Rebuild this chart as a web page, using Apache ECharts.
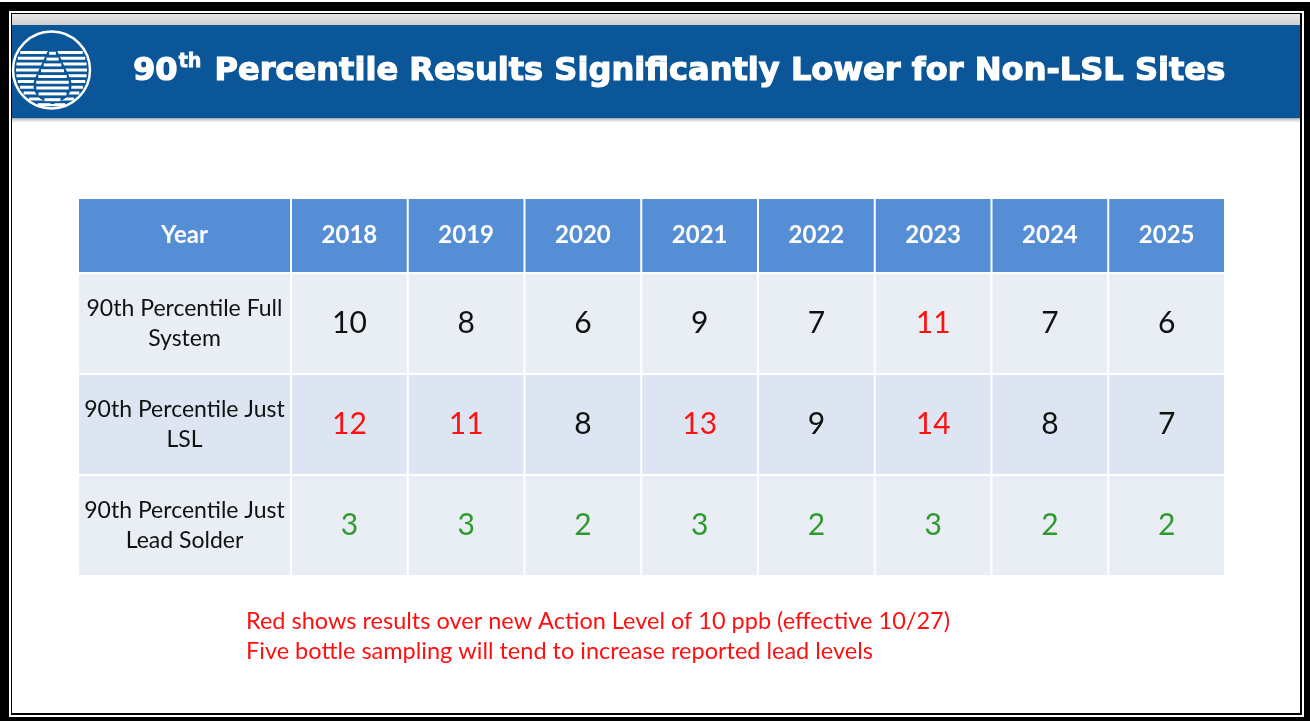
<!DOCTYPE html>
<html><head><meta charset="utf-8">
<script src="https://cdn.jsdelivr.net/npm/echarts@6/dist/echarts.min.js"></script>
<style>html,body{margin:0;padding:0;background:#fff;}#c{width:1310px;height:721px;}</style>
</head><body><div id="c"></div>
<script>
// ---- data ----
const years = ['2018', '2019', '2020', '2021', '2022', '2023', '2024', '2025'];
const headerLabel = 'Year';
const rowLabels = ['90th Percentile Full\nSystem', '90th Percentile Just\nLSL', '90th Percentile Just\nLead Solder'];
const fullSystem = [10, 8, 6, 9, 7, 11, 7, 6];
const justLSL = [12, 11, 8, 13, 9, 14, 8, 7];
const leadSolder = [3, 3, 2, 3, 2, 3, 2, 2];
const actionLevel = 10;
const titleBase = '90';
const titleSup = 'th';
const titleRest = ' Percentile Results Significantly Lower for Non-LSL Sites';
const notes = [
  'Red shows results over new Action Level of 10 ppb (effective 10/27)',
  'Five bottle sampling will tend to increase reported lead levels'
];

// ---- styles ----
const HEADER_FILL = '#558ED5';
const ROW_FILLS = ['#E9EDF4', '#DCE5F1', '#E9EDF4'];
const RED = '#FF1010', GREEN = '#2E9A2E', BLACK = '#111111';
const BODY_FONT = 'Lato, "Open Sans", sans-serif';
const BAND_BLUE = '#0A5699';

const rows = [fullSystem, justLSL, leadSolder];

function valueColor(r, v) {
  if (r === 2) return GREEN;
  return v > actionLevel ? RED : BLACK;
}

function cellRender(getText, getFill, getColor, font) {
  return function (params, api) {
    const c = api.coord([api.value(0), api.value(1)]);
    const s = api.size([1, 1]);
    const i = params.dataIndex;
    return {
      type: 'group',
      children: [
        { type: 'rect', shape: { x: c[0] - s[0] / 2 + 1, y: c[1] - s[1] / 2 + 1, width: s[0] - 2, height: s[1] - 2 },
          style: { fill: getFill(api, i) } },
        { type: 'text', x: c[0], y: c[1],
          style: { text: getText(api, i), fill: getColor(api, i), font: font, align: 'center', verticalAlign: 'middle', lineHeight: 30 } }
      ]
    };
  };
}

const headerYearData = years.map((y, i) => [i, 0]);
const bodyYearData = [];
rows.forEach((arr, r) => arr.forEach((v, i) => bodyYearData.push([i, r, v])));
const bodyLabelData = rowLabels.map((l, r) => [0, r]);

// ---- logo (decoration) ----
function logoElements() {
  const cx = 51.5, cy = 70, R = 38.5;
  const els = [];
  const step = 5.8, th = 3;
  for (let y = 51; y < cy + R - 2; y += step) {
    const d = y + th / 2 - cy;
    const hw = Math.sqrt(Math.max(0, R * R - d * d)) - 3;
    if (hw > 2) els.push({ type: 'rect', shape: { x: cx - hw, y: y, width: hw * 2, height: th }, style: { fill: '#fff' } });
  }
  const dx = cx + 1, dy = 85, rd = 17, tip = 45;
  const dropHW = function (y, pad) {
    const yk = dy - rd * 0.5;
    let hw;
    if (y >= yk) hw = Math.sqrt(Math.max(0, rd * rd - (y - dy) * (y - dy)));
    else hw = (y - tip) / (yk - tip) * rd * 0.866;
    return Math.max(0, hw + pad);
  };
  for (let y = tip - 2; y < dy + rd + 2; y += 1) {
    const hw = dropHW(y + 0.5, 2);
    if (hw > 0) els.push({ type: 'rect', shape: { x: dx - hw, y: y, width: hw * 2, height: 1 }, style: { fill: BAND_BLUE } });
  }
  for (let y = tip + 1; y < dy + rd - 1; y += step) {
    const hw = dropHW(y + th / 2, -0.5);
    if (hw > 0.8) els.push({ type: 'rect', shape: { x: dx - hw, y: y, width: hw * 2, height: th }, style: { fill: '#fff' } });
  }
  els.push({ type: 'circle', shape: { cx: cx, cy: cy, r: R }, style: { fill: null, stroke: '#fff', lineWidth: 2.5 } });
  return els;
}

const chart = echarts.init(document.getElementById('c'), null, { renderer: 'canvas' });

const graphic = [
  // frame
  { type: 'rect', shape: { x: 0, y: 2, width: 1310, height: 719 }, style: { fill: '#000' }, z: -10 },
  { type: 'rect', shape: { x: 9, y: 11, width: 1295, height: 706 }, style: { fill: '#fff' }, z: -9 },
  { type: 'rect', shape: { x: 11, y: 13, width: 1291, height: 702 }, style: { fill: '#000' }, z: -8 },
  { type: 'rect', shape: { x: 12, y: 14, width: 1288, height: 699 }, style: { fill: '#fff' }, z: -7 },
  // header band
  { type: 'rect', shape: { x: 12, y: 14, width: 1288, height: 11 },
    style: { fill: new echarts.graphic.LinearGradient(0, 0, 0, 1, [{ offset: 0, color: '#E8E8E8' }, { offset: 1, color: '#CFCFCF' }]) }, z: -6 },
  { type: 'rect', shape: { x: 12, y: 25, width: 1288, height: 93 }, style: { fill: BAND_BLUE }, z: -6 },
  { type: 'rect', shape: { x: 12, y: 118, width: 1288, height: 6 },
    style: { fill: new echarts.graphic.LinearGradient(0, 0, 0, 1, [{ offset: 0, color: '#9AA4AE' }, { offset: 1, color: 'rgba(255,255,255,0)' }]) }, z: -6 },
  { type: 'group', children: logoElements(), z: -5 },
  // title
  { type: 'text', x: 133, y: 72, z: 5,
    style: {
      text: '{a|' + titleBase + '}{s|' + titleSup + '}{a|' + titleRest + '}',
      verticalAlign: 'middle', align: 'left',
      rich: {
        a: { font: 'bold 32.1px "DejaVu Sans", Verdana, sans-serif', fill: '#fff', stroke: '#fff', lineWidth: 1.2, lineHeight: 38 },
        s: { font: 'bold 19px "DejaVu Sans", Verdana, sans-serif', fill: '#fff', stroke: '#fff', lineWidth: 0.8, lineHeight: 38, verticalAlign: 'top', padding: [0, 2, 14, 1] }
      }
    } },
  // notes
  { type: 'text', x: 246, y: 621, z: 5, style: { text: notes[0], fill: RED, font: '23.5px ' + BODY_FONT, verticalAlign: 'middle' } },
  { type: 'text', x: 246, y: 651, z: 5, style: { text: notes[1], fill: RED, font: '23.5px ' + BODY_FONT, verticalAlign: 'middle' } }
];

const hiddenCat = (data, inverse) => ({ type: 'category', data: data, show: false, inverse: !!inverse });

const option = {
  animation: false,
  backgroundColor: '#fff',
  graphic: graphic,
  grid: [
    { left: 78, top: 198, width: 213, height: 75 },
    { left: 291, top: 198, width: 934, height: 75 },
    { left: 78, top: 273, width: 213, height: 303 },
    { left: 291, top: 273, width: 934, height: 303 }
  ],
  xAxis: [
    Object.assign(hiddenCat([headerLabel]), { gridIndex: 0 }),
    Object.assign(hiddenCat(years), { gridIndex: 1 }),
    Object.assign(hiddenCat(['label']), { gridIndex: 2 }),
    Object.assign(hiddenCat(years), { gridIndex: 3 })
  ],
  yAxis: [
    Object.assign(hiddenCat(['h']), { gridIndex: 0 }),
    Object.assign(hiddenCat(['h']), { gridIndex: 1 }),
    Object.assign(hiddenCat([0, 1, 2], true), { gridIndex: 2 }),
    Object.assign(hiddenCat([0, 1, 2], true), { gridIndex: 3 })
  ],
  series: [
    { type: 'custom', xAxisIndex: 0, yAxisIndex: 0, data: [[0, 0]],
      renderItem: cellRender(() => headerLabel, () => HEADER_FILL, () => '#fff', 'bold 24px ' + BODY_FONT) },
    { type: 'custom', xAxisIndex: 1, yAxisIndex: 1, data: headerYearData,
      renderItem: cellRender((api, i) => years[i], () => HEADER_FILL, () => '#fff', 'bold 24px ' + BODY_FONT) },
    { type: 'custom', xAxisIndex: 2, yAxisIndex: 2, data: bodyLabelData,
      renderItem: cellRender((api, i) => rowLabels[i], (api, i) => ROW_FILLS[i], () => BLACK, '23px ' + BODY_FONT) },
    { type: 'custom', xAxisIndex: 3, yAxisIndex: 3, data: bodyYearData,
      renderItem: cellRender((api, i) => String(api.value(2)),
        (api, i) => ROW_FILLS[api.value(1)],
        (api, i) => valueColor(api.value(1), api.value(2)), '30px ' + BODY_FONT) }
  ]
};
chart.setOption(option);
</script>
</body></html>
